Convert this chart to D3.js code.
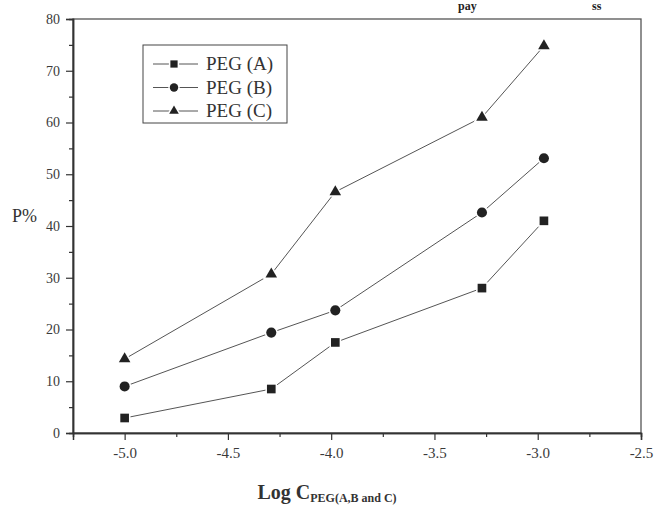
<!DOCTYPE html>
<html>
<head>
<meta charset="utf-8">
<script src="https://cdn.jsdelivr.net/npm/d3@7"></script>
<style>
  body { margin: 0; background: #fff; }
  svg { display: block; }
  text { font-family: "Liberation Serif", "DejaVu Serif", serif; }
</style>
</head>
<body>
<script>
// data
var logC = [-5.0, -4.29, -3.98, -3.27, -2.97];
var pegA = [2.9, 8.5, 17.5, 28.0, 41.0];
var pegB = [9.0, 19.4, 23.7, 42.6, 53.1];
var pegC = [14.3, 30.7, 46.6, 61.0, 74.8];
var seriesNames = ['PEG (A)', 'PEG (B)', 'PEG (C)'];
var xTicks = [-5.0, -4.5, -4.0, -3.5, -3.0, -2.5];
var yTicks = [0, 10, 20, 30, 40, 50, 60, 70, 80];

var W = 656, H = 508;
var svg = d3.select('body').append('svg')
    .attr('width', W)
    .attr('height', H);

var x = d3.scaleLinear().domain([-5.25, -2.5]).range([73, 641]);
var y = d3.scaleLinear().domain([0, 80]).range([433, 19]);

var ink = '#333';

// frame (top + right)
svg.append('rect')
    .attr('x', x(-5.25))
    .attr('y', y(80))
    .attr('width', x(-2.5) - x(-5.25))
    .attr('height', y(0) - y(80))
    .attr('fill', 'none')
    .attr('stroke', '#555')
    .attr('stroke-width', 1.3);

// y axis
var yAxis = svg.append('g')
    .attr('transform', 'translate(' + x(-5.25) + ',0)')
    .call(d3.axisLeft(y).tickValues(yTicks).tickSize(7).tickPadding(6).tickFormat(d3.format('d')));
svg.append('g')
    .attr('transform', 'translate(' + x(-5.25) + ',0)')
    .call(d3.axisLeft(y).tickValues(d3.range(5, 80, 10)).tickSize(4).tickFormat(''));

// x axis
var xAxis = svg.append('g')
    .attr('transform', 'translate(0,' + y(0) + ')')
    .call(d3.axisBottom(x).tickValues(xTicks).tickSize(7).tickPadding(7).tickFormat(d3.format('.1f')));
svg.append('g')
    .attr('transform', 'translate(0,' + y(0) + ')')
    .call(d3.axisBottom(x).tickValues([-4.75, -4.25, -3.75, -3.25, -2.75]).tickSize(4).tickFormat(''));

svg.selectAll('g').attr('font-family', null);
svg.selectAll('.domain').attr('stroke', ink).attr('stroke-width', 1.5);
svg.selectAll('.tick line').attr('stroke', ink).attr('stroke-width', 1.2);
yAxis.selectAll('text').attr('font-size', 14).attr('fill', '#3a3a3a');
xAxis.selectAll('text').attr('font-size', 15).attr('fill', '#3a3a3a')
    .text(function(d) { return d3.format('.1f')(d).replace('\u2212', '-'); });

// axis titles
svg.append('text')
    .attr('x', 12).attr('y', 222)
    .attr('font-size', 18).attr('fill', '#333')
    .text('P%');

var xt = svg.append('text')
    .attr('x', 327).attr('y', 499)
    .attr('text-anchor', 'middle')
    .attr('font-weight', 'bold')
    .attr('fill', '#333');
xt.append('tspan').attr('font-size', 20).text('Log C');
xt.append('tspan').attr('font-size', 12).attr('dy', 3).text('PEG(A,B and C)');

// text from the page above (cut in the scan)
svg.append('text').attr('x', 458).attr('y', 10).attr('font-size', 12)
    .attr('font-weight', 'bold').attr('fill', '#222').text('pay');
svg.append('text').attr('x', 592).attr('y', 10).attr('font-size', 12)
    .attr('font-weight', 'bold').attr('fill', '#222').text('ss');

// series
var symbols = [d3.symbolSquare, d3.symbolCircle, d3.symbolTriangle];
var sizes = [75, 80, 58];
var allSeries = [pegA, pegB, pegC];

var line = d3.line()
    .x(function(d, i) { return x(logC[i]); })
    .y(function(d) { return y(d); });

allSeries.forEach(function(vals, s) {
  svg.append('path')
      .datum(vals)
      .attr('d', line)
      .attr('fill', 'none')
      .attr('stroke', '#555')
      .attr('stroke-width', 1);
  svg.selectAll('.m' + s)
      .data(vals)
      .enter()
      .append('path')
      .attr('class', 'm' + s)
      .attr('transform', function(d, i) { return 'translate(' + x(logC[i]) + ',' + y(d) + ')'; })
      .attr('d', d3.symbol().type(symbols[s]).size(sizes[s]))
      .attr('fill', '#222')
      .attr('stroke', '#fff')
      .attr('stroke-width', 3)
      .attr('paint-order', 'stroke');
});

// legend
var lg = svg.append('g');
lg.append('rect')
    .attr('x', 143).attr('y', 45)
    .attr('width', 144).attr('height', 78)
    .attr('fill', '#fff')
    .attr('stroke', '#444')
    .attr('stroke-width', 1);
seriesNames.forEach(function(name, s) {
  var ly = 64 + s * 23.5;
  lg.append('line')
      .attr('x1', 153).attr('x2', 198)
      .attr('y1', ly).attr('y2', ly)
      .attr('stroke', '#555').attr('stroke-width', 1);
  lg.append('path')
      .attr('transform', 'translate(174,' + ly + ')')
      .attr('d', d3.symbol().type(symbols[s]).size(sizes[s] * 0.7))
      .attr('fill', '#222')
      .attr('stroke', '#fff')
      .attr('stroke-width', 3)
      .attr('paint-order', 'stroke');
  lg.append('text')
      .attr('x', 206).attr('y', ly + 6)
      .attr('font-size', 19)
      .attr('fill', '#333')
      .text(name);
});
</script>
</body>
</html>
